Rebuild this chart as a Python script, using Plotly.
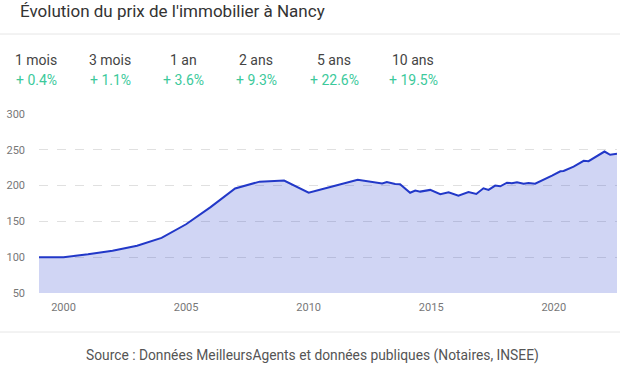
import plotly.graph_objects as go

# ---- data ----
years = [1999, 2000, 2001, 2002, 2003, 2004, 2005, 2006, 2007, 2008, 2009,
         2010, 2011, 2012, 2013, 2013.19, 2013.53, 2013.73, 2014.14, 2014.35,
         2014.55, 2014.76, 2014.96, 2015.37, 2015.71, 2016.11, 2016.52,
         2016.84, 2017.13, 2017.34, 2017.61, 2017.82, 2018.09, 2018.29,
         2018.5, 2018.77, 2018.97, 2019.24, 2019.58, 2019.93, 2020.27,
         2020.4, 2020.81, 2021.22, 2021.42, 2021.76, 2022.07, 2022.3, 2022.58]
index_values = [100, 100, 104, 109, 116, 127, 146, 170, 196, 205.5, 207,
                190, 199, 208, 203, 205, 202.3, 202, 190, 193,
                191.6, 193, 194, 188, 190.7, 186, 191,
                188.3, 196.3, 194, 200, 199, 204, 203.2,
                204.6, 202.7, 203.7, 202.7, 208, 214, 220,
                220.5, 226.6, 234.6, 234.1, 241.6, 247.6, 243, 244.4]

x_ticks = [2000, 2005, 2010, 2015, 2020]
y_ticks = [50, 100, 150, 200, 250, 300]

title_text = "Évolution du prix de l'immobilier à Nancy"
period_labels = ["1 mois", "3 mois", "1 an", "2 ans", "5 ans", "10 ans"]
period_changes = ["+ 0.4%", "+ 1.1%", "+ 3.6%", "+ 9.3%", "+ 22.6%", "+ 19.5%"]
source_text = "Source : Données MeilleursAgents et données publiques (Notaires, INSEE)"

# ---- layout geometry (pixels) ----
W, H = 620, 372
L, R, T, B = 39, 3, 114, 79
PW, PH = W - L - R, H - T - B


def xp(px):
    return (px - L) / PW


def yp(py):
    return (H - B - py) / PH


FONT = "Roboto"

fig = go.Figure()
fig.add_trace(go.Scatter(
    x=years, y=index_values, mode="lines",
    line=dict(color="#2238c8", width=2),
    fill="tozeroy", fillcolor="rgba(40,62,205,0.22)",
    hoverinfo="skip", showlegend=False,
))

annotations = [
    dict(text=title_text, x=xp(18), y=yp(11), xanchor="left", yanchor="middle",
         font=dict(family=FONT, size=17, color="#333333")),
    dict(text=source_text, x=xp(312), y=yp(355), xanchor="center", yanchor="middle",
         font=dict(family=FONT, size=13.8, color="#555555")),
]
label_x = [36, 110, 183, 256, 334, 413]
for cx, lab, val in zip(label_x, period_labels, period_changes):
    annotations.append(dict(text=lab, x=xp(cx), y=yp(60), xanchor="center", yanchor="middle",
                            font=dict(family=FONT, size=14, color="#444444")))
    annotations.append(dict(text=val, x=xp(cx), y=yp(80), xanchor="center", yanchor="middle",
                            font=dict(family=FONT, size=14, color="#3cc99b")))
for a in annotations:
    a.update(xref="paper", yref="paper", showarrow=False)

shapes = [
    dict(type="line", xref="paper", yref="paper", x0=xp(0), x1=xp(W), y0=yp(34), y1=yp(34),
         line=dict(color="#e6e6e6", width=1)),
    dict(type="line", xref="paper", yref="paper", x0=xp(0), x1=xp(W), y0=yp(332), y1=yp(332),
         line=dict(color="#e6e6e6", width=1)),
]

fig.update_layout(
    width=W, height=H,
    margin=dict(l=L, r=R, t=T, b=B, pad=0),
    paper_bgcolor="white", plot_bgcolor="white",
    annotations=annotations, shapes=shapes,
    font=dict(family=FONT),
    xaxis=dict(range=[years[0], years[-1]], tickvals=x_ticks, ticktext=[str(v) for v in x_ticks],
               showgrid=False, zeroline=False, showline=False, ticks="",
               tickfont=dict(family=FONT, size=11, color="#777777"), ticklabelstandoff=6),
    yaxis=dict(range=[50, 300], tickvals=y_ticks, showgrid=True, gridcolor="#e0e0e0",
               griddash="dash", gridwidth=1, zeroline=False, showline=False, ticks="",
               tickfont=dict(family=FONT, size=11, color="#777777"), ticklabelstandoff=13),
)

fig.write_html("out.html", config={"displayModeBar": False},
               post_script="document.body.style.margin='0';")
